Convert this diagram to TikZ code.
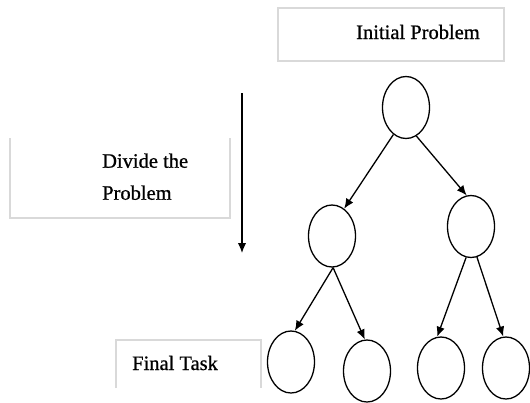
\documentclass[tikz,border=0pt]{standalone}
\usepackage{fontspec}
\setmainfont{Liberation Serif}
\newfontfamily\lblfont{Liberation Serif}[FakeBold=0.8]
\usetikzlibrary{shapes.geometric,arrows.meta}
\begin{document}
\begin{tikzpicture}[x=1pt,y=-1pt,
  tnode/.style={draw, ellipse, line width=1.3pt, minimum width=47pt, minimum height=62pt, inner sep=0pt},
  conn/.style={line width=1.3pt, -{Latex[length=10pt,width=8.5pt]}},
  labelbox/.style={draw=black!15, line width=1.2pt},
  lbl/.style={font=\lblfont\fontsize{20.5}{32}\selectfont, inner sep=0pt}]
\useasboundingbox (0,0) rectangle (530,402);
% label boxes
\draw[labelbox] (278,8) rectangle (504,61);
\draw[labelbox] (10,138) -- (10,218) -- (230,218) -- (230,138);
\draw[labelbox] (116,388) -- (116,340) -- (261,340) -- (261,388);
% labels
\node[lbl, anchor=base west] (tinit) at (356,39) {Initial Problem};
\node[lbl, anchor=north west, align=left] (tdiv) at (102,153.3) {Divide the\\Problem};
\node[lbl, anchor=base west] (tfinal) at (132,370) {Final Task};
% vertical arrow
\coordinate (vtop) at (242,93);
\coordinate (vbot) at (242,253);
\draw[conn] (vtop) -- (vbot);
% tree
\node[tnode] (root) at (406,107.5) {};
\node[tnode] (lm) at (332,236) {};
\node[tnode] (rm) at (471,226.5) {};
\node[tnode] (e1) at (291,362) {};
\node[tnode] (e2) at (367,371) {};
\node[tnode] (e3) at (441,368) {};
\node[tnode] (e4) at (506,368) {};
\draw[conn] (root.-115) -- (lm.66);
\draw[conn] (root.-70) -- (rm.98);
\draw[conn] (lm.-88) -- (e1.83);
\draw[conn] (lm.-88) -- (e2.94);
\draw[conn] (rm.-99) -- (e3.97);
\draw[conn] (rm.-79) -- (e4.95);
\end{tikzpicture}
\end{document}
